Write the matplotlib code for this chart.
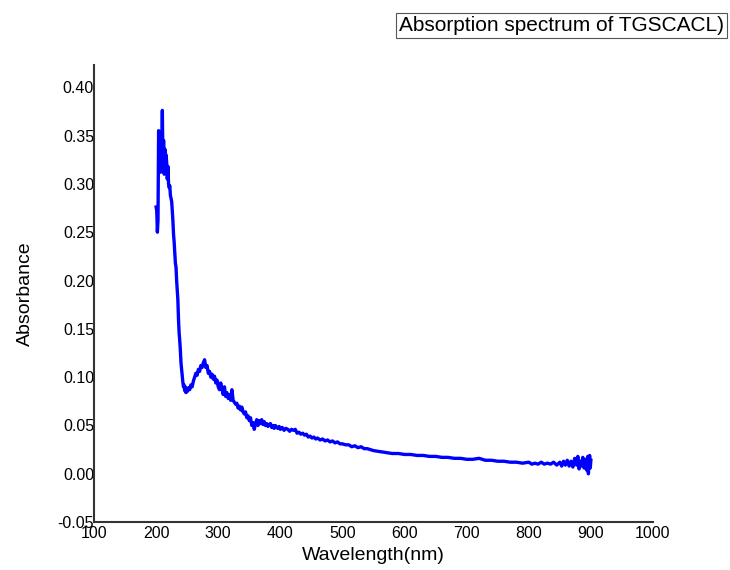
import matplotlib
matplotlib.use("Agg")
from matplotlib import pyplot as plt

plt.rcParams["font.family"] = ["Liberation Sans", "DejaVu Sans"]

# wavelength (nm) and absorbance
wavelength = [
    200, 201, 202, 203, 204, 205, 206, 207, 208, 209, 210, 211, 212, 213, 214,
    215, 216, 217, 218, 219, 220, 221, 222, 223, 224, 225, 226, 227, 228, 229,
    230, 231, 232, 233, 234, 235, 236, 237, 238, 239, 240, 241, 242, 243, 244,
    245, 246, 247, 248, 249, 250, 252, 254, 256, 258, 260, 262, 264, 266, 268,
    270, 272, 274, 276, 278, 280, 282, 284, 286, 288, 290, 292, 294, 296, 298,
    300, 302, 304, 306, 308, 310, 312, 314, 316, 318, 320, 322, 324, 326, 328,
    330, 332, 334, 336, 338, 340, 342, 344, 346, 348, 350, 352, 354, 356, 358,
    360, 362, 364, 366, 368, 370, 372, 374, 376, 378, 380, 382, 384, 386, 388,
    390, 392, 394, 396, 398, 400, 403, 406, 409, 412, 415, 418, 421, 424, 427,
    430, 433, 436, 439, 442, 445, 448, 451, 454, 457, 460, 464, 468, 472, 476,
    480, 484, 488, 492, 496, 500, 505, 510, 515, 520, 525, 530, 535, 540, 545,
    550, 560, 570, 580, 590, 600, 610, 620, 630, 640, 650, 660, 670, 680, 690,
    700, 710, 720, 730, 740, 750, 760, 770, 780, 790, 800, 805, 810, 815, 820,
    825, 830, 835, 840, 845, 850, 853, 856, 859, 862, 865, 868, 871, 874, 877,
    879, 881, 883, 885, 887, 889, 891, 893, 895, 896, 897, 898, 899, 900,
]
absorbance = [
    0.276, 0.272, 0.250, 0.262, 0.355, 0.318, 0.350, 0.312, 0.340, 0.322, 0.376, 0.318, 0.345, 0.310, 0.336,
    0.315, 0.330, 0.322, 0.305, 0.318, 0.300, 0.296, 0.298, 0.288, 0.285, 0.282, 0.272, 0.262, 0.248, 0.240,
    0.228, 0.218, 0.214, 0.200, 0.190, 0.180, 0.160, 0.146, 0.138, 0.128, 0.115, 0.108, 0.100, 0.095, 0.090,
    0.092, 0.086, 0.090, 0.084, 0.088, 0.085, 0.089, 0.087, 0.092, 0.090, 0.096, 0.100, 0.104, 0.102, 0.108,
    0.106, 0.112, 0.110, 0.115, 0.118, 0.110, 0.112, 0.104, 0.106, 0.100, 0.103, 0.098, 0.101, 0.094, 0.097,
    0.090, 0.087, 0.094, 0.088, 0.082, 0.090, 0.080, 0.084, 0.078, 0.082, 0.076, 0.087, 0.076, 0.074, 0.072,
    0.073, 0.068, 0.070, 0.066, 0.069, 0.064, 0.062, 0.064, 0.058, 0.060, 0.055, 0.058, 0.050, 0.053, 0.046,
    0.052, 0.056, 0.050, 0.055, 0.052, 0.056, 0.051, 0.054, 0.050, 0.052, 0.049, 0.051, 0.052, 0.048, 0.050,
    0.047, 0.050, 0.048, 0.047, 0.049, 0.046, 0.048, 0.045, 0.047, 0.046, 0.044, 0.046, 0.045, 0.046, 0.042,
    0.043, 0.041, 0.042, 0.040, 0.041, 0.038, 0.039, 0.037, 0.038, 0.036, 0.037, 0.035, 0.036, 0.034, 0.035,
    0.033, 0.034, 0.032, 0.033, 0.031, 0.031, 0.030, 0.030, 0.028, 0.029, 0.027, 0.028, 0.026, 0.026, 0.025,
    0.024, 0.023, 0.022, 0.021, 0.021, 0.020, 0.020, 0.019, 0.019, 0.018, 0.018, 0.017, 0.017, 0.016, 0.016,
    0.015, 0.015, 0.016, 0.014, 0.014, 0.013, 0.013, 0.012, 0.012, 0.011, 0.012, 0.010, 0.011, 0.010, 0.012,
    0.010, 0.011, 0.010, 0.012, 0.009, 0.012, 0.008, 0.013, 0.009, 0.014, 0.008, 0.013, 0.007, 0.016, 0.009,
    0.018, 0.005, 0.013, 0.008, 0.017, 0.006, 0.015, 0.004, 0.018, 0.000, 0.012, 0.019, 0.006, 0.014,
]

x_ticks = [100, 200, 300, 400, 500, 600, 700, 800, 900, 1000]
y_ticks = [-0.05, 0.00, 0.05, 0.10, 0.15, 0.20, 0.25, 0.30, 0.35, 0.40]

fig = plt.figure(figsize=(7.3, 5.7), dpi=100)
ax = fig.add_axes([0.1288, 0.084, 0.7657, 0.802])

ax.plot(wavelength, absorbance, color="#0000ff", linewidth=2.4)

ax.set_xlim(100, 1000)
ax.set_ylim(-0.05, 0.423)
ax.set_xticks(x_ticks)
ax.set_xticklabels([str(t) for t in x_ticks])
ax.set_yticks(y_ticks)
ax.set_yticklabels([f"{t:.2f}" for t in y_ticks])
ax.tick_params(axis="both", length=0, labelsize=11.5)
ax.tick_params(axis="x", pad=3)
ax.tick_params(axis="y", pad=0)

for side in ["top", "right"]:
    ax.spines[side].set_visible(False)
for side in ["left", "bottom"]:
    ax.spines[side].set_color("#333333")
    ax.spines[side].set_linewidth(1.5)

ax.set_xlabel("Wavelength(nm)", fontsize=14, labelpad=4)
ax.set_ylabel("Absorbance", fontsize=14, labelpad=17)

fig.text(
    0.992, 0.955, "Absorption spectrum of TGSCACL)",
    fontsize=15, ha="right", va="center",
    bbox=dict(boxstyle="square,pad=0.15", facecolor="white", edgecolor="#555555", linewidth=0.8),
)

plt.savefig("out.png", dpi=100)
plt.close()
